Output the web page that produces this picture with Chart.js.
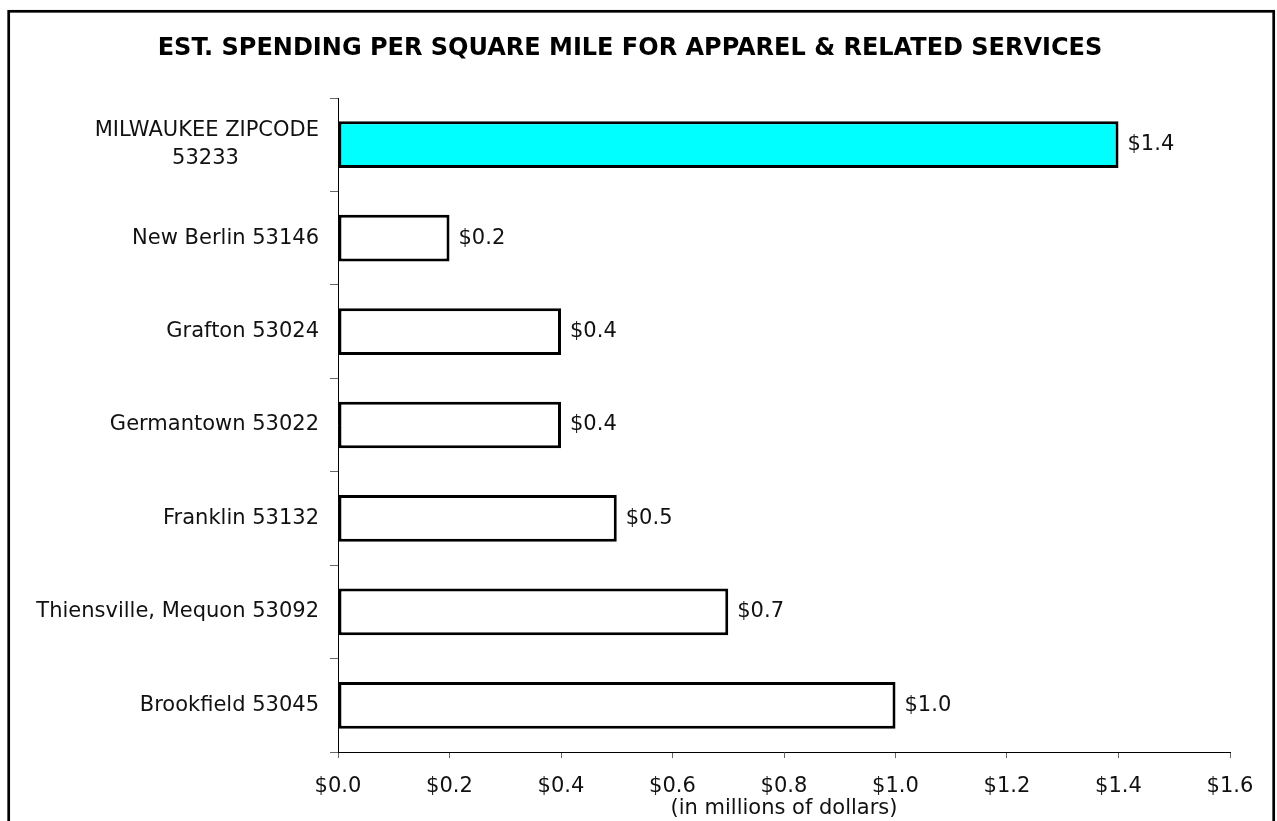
<!DOCTYPE html>
<html>
<head>
<meta charset="utf-8">
<script src="https://cdn.jsdelivr.net/npm/chart.js@4/dist/chart.umd.min.js"></script>
<style>
  html, body { margin: 0; padding: 0; background: #fff; }
  #wrap { width: 1277px; height: 821px; }
</style>
</head>
<body>
<div id="wrap"><canvas id="myChart"></canvas></div>
<script>
const places = [
    ['MILWAUKEE ZIPCODE', '53233'],
    'New Berlin 53146',
    'Grafton 53024',
    'Germantown 53022',
    'Franklin 53132',
    'Thiensville, Mequon 53092',
    'Brookfield 53045'
];
const spending = [1.4, 0.2, 0.4, 0.4, 0.5, 0.7, 1.0];
const barColors = ['#00ffff', '#ffffff', '#ffffff', '#ffffff', '#ffffff', '#ffffff', '#ffffff'];
const xTickLabels = ['$0.0', '$0.2', '$0.4', '$0.6', '$0.8', '$1.0', '$1.2', '$1.4', '$1.6'];

const FONT = 'DejaVu Sans';
const LABEL_SIZE = 21;

Chart.defaults.font.family = FONT;
Chart.defaults.color = '#111';

// centre the lines of a multi-line label even though the axis right-aligns them
const measureCtx = document.createElement('canvas').getContext('2d');
function centerLines(lines) {
    measureCtx.font = LABEL_SIZE + 'px "' + FONT + '"';
    const widest = Math.max(...lines.map(l => measureCtx.measureText(l).width));
    return lines.map(l => {
        const w = measureCtx.measureText(l).width;
        let s = l;
        while (measureCtx.measureText(s).width < (widest + w) / 2) s += ' ';
        return s;
    });
}

const frame = {
    id: 'frame',
    afterDraw(chart) {
        const ctx = chart.ctx;
        ctx.save();
        ctx.strokeStyle = '#000';
        ctx.lineWidth = 2.7;
        ctx.strokeRect(8.7, 11.3, 1265, 900);
        ctx.restore();
    }
};

const valueLabels = {
    id: 'valueLabels',
    afterDatasetsDraw(chart) {
        const ctx = chart.ctx;
        const meta = chart.getDatasetMeta(0);
        ctx.save();
        ctx.font = LABEL_SIZE + 'px "' + FONT + '"';
        ctx.fillStyle = '#111';
        ctx.textBaseline = 'middle';
        ctx.textAlign = 'left';
        meta.data.forEach((bar, i) => {
            ctx.fillText('$' + spending[i].toFixed(1), bar.x + 9, bar.y);
        });
        ctx.restore();
    }
};

let ctx = document.getElementById('myChart').getContext('2d');

new Chart(ctx, {
    type: 'bar',
    data: {
        labels: places,
        datasets: [{
            data: spending,
            backgroundColor: barColors,
            borderColor: '#000',
            borderWidth: 3,
            borderSkipped: false,
            categoryPercentage: 1,
            barPercentage: 0.5
        }]
    },
    options: {
        indexAxis: 'y',
        responsive: true,
        maintainAspectRatio: false,
        animation: false,
        layout: {
            padding: { top: 0, left: 30, right: 47, bottom: 0 }
        },
        plugins: {
            legend: { display: false },
            tooltip: { enabled: false },
            title: {
                display: true,
                text: 'EST. SPENDING PER SQUARE MILE FOR APPAREL & RELATED SERVICES',
                color: '#000',
                font: { size: 24, weight: 'bold' },
                padding: { top: 34.6, bottom: 34.6 }
            }
        },
        scales: {
            x: {
                min: 0,
                max: 1.6,
                ticks: {
                    stepSize: 0.2,
                    padding: 16,
                    font: { size: LABEL_SIZE },
                    color: '#111',
                    callback: (value, index) => xTickLabels[index]
                },
                grid: {
                    drawOnChartArea: false,
                    drawTicks: true,
                    tickLength: 6,
                    color: '#666'
                },
                border: { display: true, color: '#000', width: 1 },
                title: {
                    display: true,
                    text: '(in millions of dollars)',
                    color: '#111',
                    font: { size: LABEL_SIZE },
                    padding: { top: 0, bottom: 0 }
                },
                afterFit: (scale) => { scale.height = 69; }
            },
            y: {
                ticks: {
                    padding: 11,
                    font: { size: LABEL_SIZE, lineHeight: 1.33 },
                    color: '#111',
                    callback: function (value) {
                        const label = this.getLabelForValue(value);
                        return Array.isArray(label) ? centerLines(label) : label;
                    }
                },
                grid: {
                    drawOnChartArea: false,
                    drawTicks: true,
                    tickLength: 8,
                    color: '#666'
                },
                border: { display: true, color: '#000', width: 1 },
                afterFit: (scale) => { scale.width = 308; }
            }
        }
    },
    plugins: [frame, valueLabels]
});
</script>
</body>
</html>
